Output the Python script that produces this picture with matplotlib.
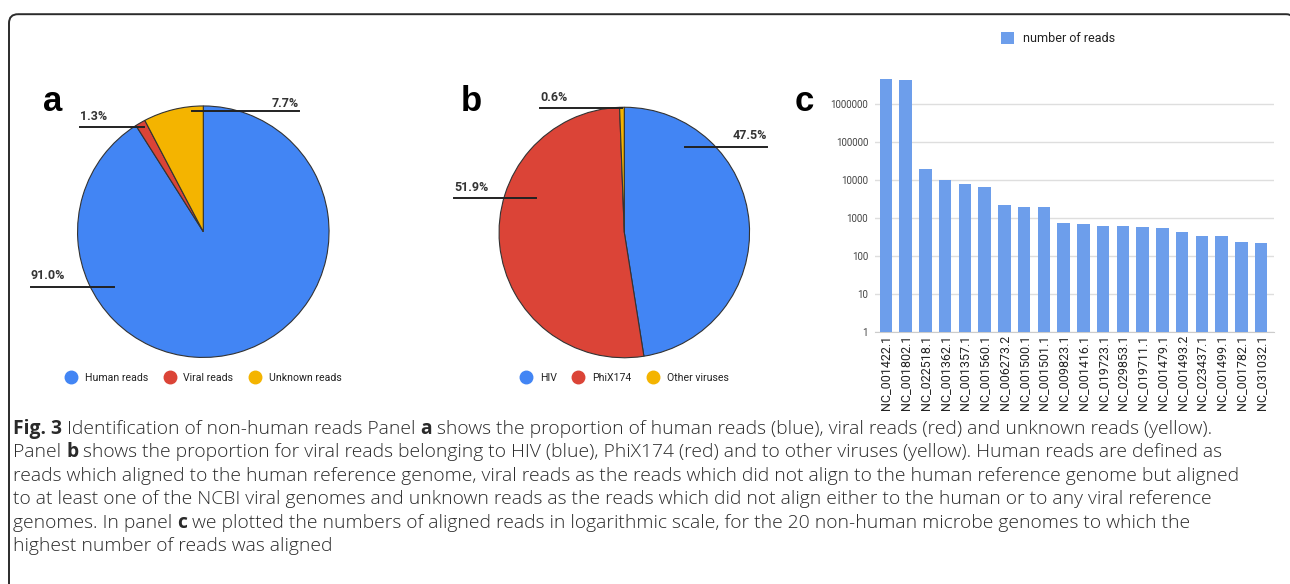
import matplotlib
matplotlib.use("Agg")
import matplotlib.pyplot as plt
from matplotlib.lines import Line2D
from matplotlib.patches import FancyBboxPatch

# data
human_labels = ["Human reads", "Viral reads", "Unknown reads"]
human_share = [91.0, 1.3, 7.7]
virus_labels = ["HIV", "PhiX174", "Other viruses"]
virus_share = [47.5, 51.9, 0.6]
pie_colors = ["#4285f4", "#db4437", "#f4b400"]

genomes = ["NC_001422.1", "NC_001802.1", "NC_022518.1", "NC_001362.1", "NC_001357.1",
           "NC_001560.1", "NC_006273.2", "NC_001500.1", "NC_001501.1", "NC_009823.1",
           "NC_001416.1", "NC_019723.1", "NC_029853.1", "NC_019711.1", "NC_001479.1",
           "NC_001493.2", "NC_023437.1", "NC_001499.1", "NC_001782.1", "NC_031032.1"]
read_counts = [4700000, 4400000, 20000, 10200, 7700, 6700, 2170, 1900, 1900, 730,
               685, 610, 610, 575, 540, 430, 335, 335, 235, 220]
log_ticks = [1, 10, 100, 1000, 10000, 100000, 1000000]

caption = [
    "**Fig. 3** Identification of non-human reads Panel **a** shows the proportion of human reads (blue), viral reads (red) and unknown reads (yellow).",
    "Panel **b** shows the proportion for viral reads belonging to HIV (blue), PhiX174 (red) and to other viruses (yellow). Human reads are defined as",
    "reads which aligned to the human reference genome, viral reads as the reads which did not align to the human reference genome but aligned",
    "to at least one of the NCBI viral genomes and unknown reads as the reads which did not align either to the human or to any viral reference",
    "genomes. In panel **c** we plotted the numbers of aligned reads in logarithmic scale, for the 20 non-human microbe genomes to which the",
    "highest number of reads was aligned",
]

W, H = 1290, 584
fig = plt.figure(figsize=(12.9, 5.84), dpi=100)
fig.patch.set_facecolor("white")


def px_axes(x0, y0, x1, y1):
    return fig.add_axes([x0 / W, 1 - y1 / H, (x1 - x0) / W, (y1 - y0) / H])


# overlay in pixel coords for frame, panel letters and caption
ov = fig.add_axes([0, 0, 1, 1], zorder=-1)
ov.set_xlim(0, W)
ov.set_ylim(H, 0)
ov.axis("off")
ov.add_patch(FancyBboxPatch((9.0, 14.2), 1286, 700, boxstyle="round,pad=0,rounding_size=9",
                            fc="none", ec="#2b2b2b", lw=1.4))

letter_font = dict(family="Liberation Sans", fontsize=25, fontweight="bold", color="black", va="baseline")
ov.text(43, 110.7, "a", **letter_font)
ov.text(461, 110.7, "b", **letter_font)
ov.text(795, 110.7, "c", **letter_font)

label_font = dict(family="Roboto", fontsize=9, fontweight="bold", color="#333333")


def draw_pie(cx, cy, r, shares, labels, leaders, legend_y):
    ax = px_axes(cx - r, cy - r, cx + r, cy + r)
    ax.pie(shares, colors=pie_colors, startangle=90, counterclock=False,
           wedgeprops=dict(edgecolor="#333333", linewidth=0.8))
    ax.set_xlim(-1.01, 1.01)
    ax.set_ylim(-1.01, 1.01)
    for txt, x0, x1, ly, tx, ty, ha in leaders:
        ax.plot([x0, x1], [ly, ly], color="#222222", lw=1.4, clip_on=False, zorder=5)
        ax.text(tx, ty, txt, ha=ha, va="baseline", clip_on=False, **label_font)
    handles = [Line2D([], [], ls="", marker="o", markersize=9, markerfacecolor=c,
                      markeredgecolor=c) for c in pie_colors]
    ax.legend(handles, labels, ncol=3, loc="center", frameon=False,
              bbox_to_anchor=(cx / W, 1 - legend_y / H), bbox_transform=fig.transFigure,
              prop=dict(family="Roboto", size=7.6), labelcolor="#222222",
              handlelength=1.15, handletextpad=0.7, columnspacing=1.5)


# leader lines: (label, x0, x1, y, text x, text y, align) in radius units
draw_pie(203.3, 231.7, 127, human_share, human_labels, [
    ("7.7%", -0.091, 0.761, 0.956, 0.761, 0.99, "right"),
    ("1.3%", -0.979, -0.475, 0.835, -0.979, 0.885, "left"),
    ("91.0%", -1.372, -0.711, -0.441, -1.372, -0.375, "left"),
], 377.7)

draw_pie(624.3, 232.5, 126.5, virus_share, virus_labels, [
    ("0.6%", -0.672, -0.02, 0.992, -0.672, 1.053, "left"),
    ("47.5%", 0.488, 1.138, 0.686, 1.138, 0.745, "right"),
    ("51.9%", -1.36, -0.706, 0.278, -1.36, 0.331, "left"),
], 377.7)

# bar chart, log scale
axc = px_axes(875, 75, 1274, 331.7)
x = range(len(genomes))
axc.bar(x, read_counts, width=0.64, color="#6d9eeb", label="number of reads", zorder=3)
axc.set_yscale("log")
axc.set_ylim(1, 10 ** 6.77)
axc.set_xlim(-0.55, 19.65)
axc.set_yticks(log_ticks)
axc.set_yticklabels([str(t) for t in log_ticks])
axc.minorticks_off()
axc.set_xticks(list(x))
axc.set_xticklabels(genomes, rotation=90, family="Roboto", fontsize=9, color="#222222")
for lab in axc.get_yticklabels():
    lab.set_family("Roboto")
    lab.set_fontsize(7)
    lab.set_color("#444444")
axc.tick_params(axis="y", length=0, pad=5)
axc.tick_params(axis="x", length=0, pad=2)
axc.yaxis.grid(True, color="#dedede", lw=1)
axc.set_axisbelow(True)
for s in ["top", "right", "left"]:
    axc.spines[s].set_visible(False)
axc.spines["bottom"].set_color("#cccccc")
axc.legend(loc="center", bbox_to_anchor=(1058 / W, 1 - 38.5 / H), bbox_transform=fig.transFigure,
           frameon=False, prop=dict(family="Roboto", size=9), labelcolor="#222222",
           handlelength=1.1, handleheight=1.1, handletextpad=0.7)

# caption with bold pieces
renderer = fig.canvas.get_renderer()
cap_font = dict(family="Open Sans", fontsize=13.9, color="#2a2a2a")


def piece_width(s, weight):
    t1 = ov.text(0, 0, "|" + s + "|", fontweight=weight, **cap_font)
    t2 = ov.text(0, 0, "||", fontweight=weight, **cap_font)
    w = t1.get_window_extent(renderer).width - t2.get_window_extent(renderer).width
    t1.remove()
    t2.remove()
    return w


y = 434
for line in caption:
    xpos = 13
    for i, part in enumerate(line.split("**")):
        if not part:
            continue
        weight = "bold" if i % 2 else "light"
        ov.text(xpos, y, part, fontweight=weight, va="baseline", ha="left", **cap_font)
        xpos += piece_width(part, weight)
    y += 23.4

fig.savefig("out.png", dpi=100)
